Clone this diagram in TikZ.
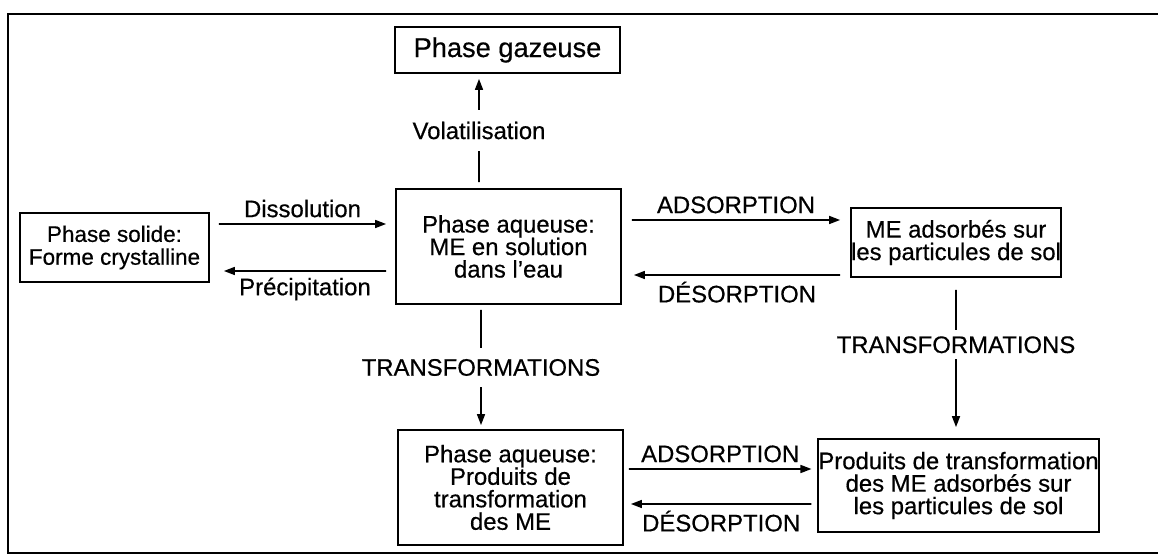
\documentclass[tikz,border=0pt]{standalone}
\usepackage{fontspec}
\setmainfont{Liberation Sans}[FakeBold=0.5]
\usepackage{tikz}
\usetikzlibrary{arrows.meta, positioning}

\begin{document}
\begin{tikzpicture}[
        every node/.style={font=\fontsize{13.6}{12.8}\selectfont},
        box/.style={draw, line width=1pt, align=center, inner sep=0pt},
        arr/.style={line width=0.9pt, -{Triangle[length=2.2mm, width=1.6mm]}},
        vlabel/.style={fill=white, inner xsep=2pt, inner ysep=6.5pt}
    ]
        \useasboundingbox (0,0) rectangle (23.16,11.12);
        % Frame (open on the right)
        \draw[line width=1.5pt] (23.16,10.84) -- (0.16,10.84) -- (0.16,0.06) -- (23.16,0.06);
        % Boxes
        \node[box, minimum width=4.5cm, minimum height=0.92cm, font=\fontsize{15.5}{14}\selectfont] (gaz) at (10.15,10.12) {Phase gazeuse};
        \node[box, minimum width=3.78cm, minimum height=1.38cm, font=\fontsize{12.8}{13}\selectfont] (solide) at (2.29,6.17) {Phase solide:\\Forme crystalline};
        \node[box, minimum width=4.5cm, minimum height=2.3cm] (aqME) at (10.17,6.19) {Phase aqueuse:\\ME en solution\\dans l’eau};
        \node[box, minimum width=4.2cm, minimum height=1.38cm] (adsME) at (19.12,6.27) {ME adsorbés sur\\les particules de sol};
        \node[box, minimum width=4.5cm, minimum height=2.3cm] (aqProd) at (10.21,1.37) {Phase aqueuse:\\Produits de\\transformation\\des ME};
        \node[box, minimum width=5.46cm, minimum height=1.86cm] (prodAds) at (19.17,1.41) {Produits de transformation\\des ME adsorbés sur\\les particules de sol};
        % Volatilisation
        \draw[arr] ([xshift=-5.9mm,yshift=1.2mm]aqME.north) -- ([xshift=-5.7mm,yshift=-1mm]gaz.south)
            node[vlabel, midway] (volat) {Volatilisation};
        % Dissolution / precipitation
        \draw[arr] ([xshift=1.8mm,yshift=4.7mm]solide.east) -- ([xshift=-1.8mm,yshift=4.5mm]aqME.west)
            node[above, midway] (dissol) {Dissolution};
        \draw[arr] ([xshift=-1.8mm,yshift=-4.9mm]aqME.west) -- ([xshift=2.8mm,yshift=-4.7mm]solide.east)
            node[below, midway] (precip) {Précipitation};
        % Adsorption / desorption (ME)
        \draw[arr] ([xshift=2mm,yshift=5.3mm]aqME.east) -- ([xshift=-2mm,yshift=4.5mm]adsME.west)
            node[above, midway] (adsA) {ADSORPTION};
        \draw[arr] ([xshift=-2mm,yshift=-6.5mm]adsME.west) -- ([xshift=2.4mm,yshift=-5.7mm]aqME.east)
            node[below, midway] (desA) {DÉSORPTION};
        % Transformations
        \draw[arr] ([xshift=-5.5mm,yshift=-1mm]aqME.south) -- ([xshift=-5.9mm,yshift=0.8mm]aqProd.north)
            node[vlabel, midway] (transA) {TRANSFORMATIONS};
        \draw[arr] ([yshift=-2.4mm]adsME.south) -- ([xshift=-0.5mm,yshift=2.2mm]prodAds.north)
            node[vlabel, inner ysep=3.5pt, pos=0.4] (transB) {TRANSFORMATIONS};
        % Adsorption / desorption (products)
        \draw[arr] ([xshift=1mm,yshift=3.7mm]aqProd.east) -- ([xshift=-1.2mm,yshift=3.3mm]prodAds.west)
            node[above, midway] (adsB) {ADSORPTION};
        \draw[arr] ([xshift=-1.2mm,yshift=-3.7mm]prodAds.west) -- ([xshift=1.4mm,yshift=-3.3mm]aqProd.east)
            node[below, midway] (desB) {DÉSORPTION};
    \end{tikzpicture}
\end{document}
